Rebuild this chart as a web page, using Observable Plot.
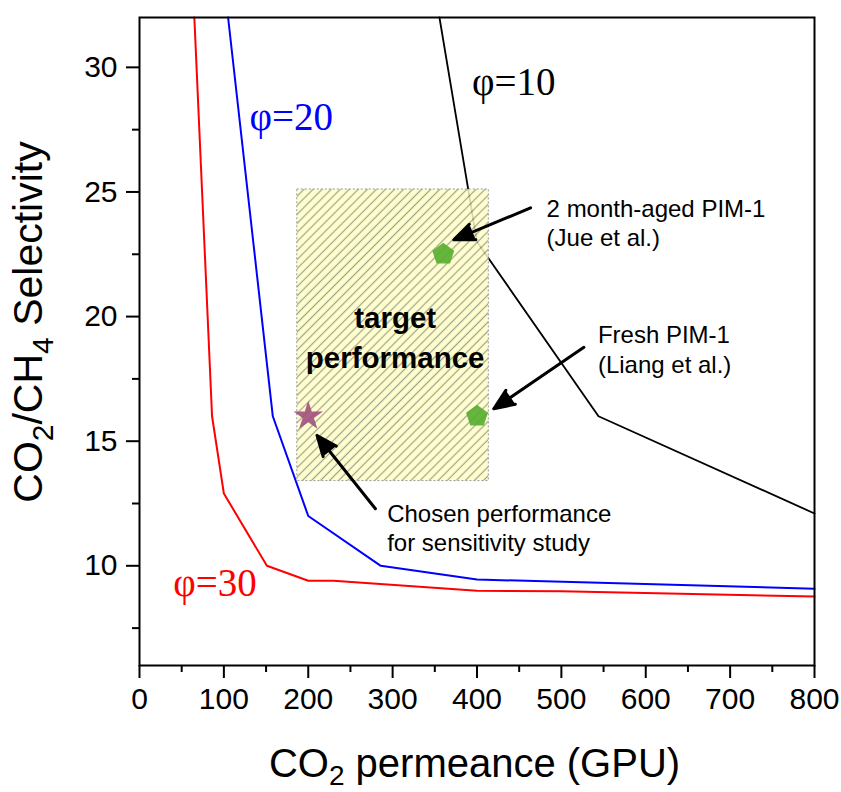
<!DOCTYPE html>
<html><head><meta charset="utf-8">
<script src="https://cdn.jsdelivr.net/npm/d3@7"></script>
<script src="https://cdn.jsdelivr.net/npm/@observablehq/plot@0.6"></script>
<style>body{margin:0;background:#fff;} svg{display:block}</style>
</head><body><div id="chart"></div>
<script>
// ---- data ----
const phi30X = [65, 86, 100, 151, 200, 230, 400, 500, 800];
const phi30Y = [32, 16, 12.9, 10, 9.4, 9.4, 9.0, 8.98, 8.77];
const phi20X = [105, 158, 200, 286, 400, 800];
const phi20Y = [32, 16, 12, 10, 9.45, 9.08];
const phi10X = [355.5, 400, 544, 800];
const phi10Y = [32, 23, 16, 12.1];

const targetX = [187, 414];
const targetY = [13.4, 25.1];
const targetLabel = "target\nperformance";
const targetLabelX = [303];
const targetLabelY = [20.7];

const pimX = [360, 400];
const pimY = [22.5, 16];
const chosenX = [200];
const chosenY = [16];

const xMajorTicks = [0, 100, 200, 300, 400, 500, 600, 700, 800];
const xMinorTicks = [50, 150, 250, 350, 450, 550, 650, 750];
const yMajorTicks = [10, 15, 20, 25, 30];
const yMinorTicks = [7.5, 12.5, 17.5, 22.5, 27.5];

const phiLabels = ["φ=30", "φ=20", "φ=10"];
const phiLabelX = [40, 130.5, 394];
const phiLabelY = [9.28, 27.98, 29.38];
const phiColors = ["#ff0000", "#0000ff", "#000000"];

const noteTexts = ["2 month-aged PIM-1\n(Jue et al.)", "Fresh PIM-1\n(Liang et al.)", "Chosen performance\nfor sensitivity study"];
const noteX = [482.5, 543.3, 293.5];
const noteY = [24.86, 19.78, 12.62];
const arrowX1 = [463.5, 526.7, 279.6];
const arrowY1 = [24.36, 18.77, 12.29];
const arrowX2 = [372.5, 419.9, 210.4];
const arrowY2 = [23.08, 16.30, 15.23];

// ---- tables ----
const toRows = (xs, ys) => xs.map((x, i) => ({x, y: ys[i]}));
const line30 = toRows(phi30X, phi30Y);
const line20 = toRows(phi20X, phi20Y);
const line10 = toRows(phi10X, phi10Y);
const targetRect = [{x1: targetX[0], x2: targetX[1], y1: targetY[0], y2: targetY[1]}];
const pims = toRows(pimX, pimY);
const chosen = toRows(chosenX, chosenY);
const phiRows = phiLabels.map((t, i) => ({t, x: phiLabelX[i], y: phiLabelY[i], c: phiColors[i]}));
const notes = noteTexts.map((t, i) => ({t, x: noteX[i], y: noteY[i]}));
const arrows = arrowX1.map((x1, i) => ({x1, y1: arrowY1[i], x2: arrowX2[i], y2: arrowY2[i]}));
const targetText = [{t: targetLabel, x: targetLabelX[0], y: targetLabelY[0]}];

const pentagon = {
  draw(ctx, size) {
    const R = Math.sqrt(size / Math.PI);
    for (let i = 0; i < 5; i++) {
      const a = -Math.PI / 2 + i * 2 * Math.PI / 5;
      const px = R * Math.cos(a), py = R * Math.sin(a);
      if (i) ctx.lineTo(px, py); else ctx.moveTo(px, py);
    }
    ctx.closePath();
  }
};

const W = 841, H = 792;
const chart = Plot.plot({
  width: W, height: H,
  marginLeft: 139, marginRight: 27, marginTop: 17, marginBottom: 127,
  style: {fontFamily: "'Liberation Sans', Arial, sans-serif", fontSize: "29px", color: "black", background: "white", overflow: "visible"},
  x: {domain: [0, 800]},
  y: {domain: [6, 32]},
  marks: [
    Plot.line(line30, {x: "x", y: "y", stroke: "#ff0000", strokeWidth: 2}),
    Plot.line(line20, {x: "x", y: "y", stroke: "#0000ff", strokeWidth: 2}),
    Plot.line(line10, {x: "x", y: "y", stroke: "#000000", strokeWidth: 1.8}),
    Plot.rect(targetRect, {x1: "x1", x2: "x2", y1: "y1", y2: "y2", fill: "url(#hatch)", fillOpacity: 0.85, stroke: "#9a9a9a", strokeWidth: 1, strokeDasharray: "2,2"}),
    Plot.dot(pims, {x: "x", y: "y", symbol: pentagon, r: 11.5, fill: "#55ad2c", fillOpacity: 0.9, stroke: "none"}),
    Plot.dot(chosen, {x: "x", y: "y", symbol: "star", r: 9.3, fill: "#a24f7c", fillOpacity: 0.9, stroke: "none"}),
    Plot.arrow(arrows, {x1: "x1", y1: "y1", x2: "x2", y2: "y2", stroke: "black", fill: "black", strokeWidth: 3, headLength: 11, headAngle: 45, strokeLinejoin: "miter"}),
    Plot.text(phiRows, {x: "x", y: "y", text: "t", fill: "c", textAnchor: "start", fontFamily: "'Liberation Serif', 'Times New Roman', serif", fontSize: 39}),
    Plot.text(notes, {x: "x", y: "y", text: "t", textAnchor: "start", lineAnchor: "top", fontSize: 24, lineHeight: 1.24, fill: "black"}),
    Plot.text(targetText, {x: "x", y: "y", text: "t", textAnchor: "middle", lineAnchor: "top", fontSize: 29.5, fontWeight: "bold", lineHeight: 1.36, fill: "black"}),
    Plot.frame({stroke: "black", strokeWidth: 2}),
    Plot.axisX({ticks: xMajorTicks, tickSize: 13, tickPadding: 9, strokeWidth: 2, fontSize: 30, label: null, tickFormat: d => String(d)}),
    Plot.axisX({ticks: xMinorTicks, tickSize: 7, strokeWidth: 2, label: null, tickFormat: () => ""}),
    Plot.axisY({ticks: yMajorTicks, tickSize: 13, tickPadding: 9, strokeWidth: 2, fontSize: 30, label: null, tickFormat: d => String(d)}),
    Plot.axisY({ticks: yMinorTicks, tickSize: 7, strokeWidth: 2, label: null, tickFormat: () => ""})
  ]
});
document.getElementById("chart").appendChild(chart);

const svg = d3.select(chart);
// hatch pattern for the target region
const defs = svg.insert("defs", ":first-child");
const pat = defs.append("pattern").attr("id", "hatch").attr("patternUnits", "userSpaceOnUse")
  .attr("width", 6.4).attr("height", 6.4).attr("patternTransform", "rotate(45)");
pat.append("rect").attr("width", 6.4).attr("height", 6.4).attr("fill", "#ffffc6");
pat.append("line").attr("x1", 3.2).attr("y1", 0).attr("x2", 3.2).attr("y2", 6.4)
  .attr("stroke", "#8f8f7c").attr("stroke-width", 1.2);

// axis titles with subscripts
const xr = chart.scale("x").range, yr = chart.scale("y").range;
const labelFont = "'Liberation Sans', Arial, sans-serif";
const xt = svg.append("text").attr("x", (xr[0] + xr[1]) / 2 - 2).attr("y", H - 15)
  .attr("text-anchor", "middle").attr("font-family", labelFont).attr("font-size", 40).attr("fill", "black");
xt.append("tspan").text("CO");
xt.append("tspan").attr("font-size", 28).attr("dy", 8).text("2");
xt.append("tspan").attr("dy", -8).text(" permeance (GPU)");

const yc = (yr[0] + yr[1]) / 2 - 19;
const yt = svg.append("text").attr("transform", `translate(42,${yc}) rotate(-90)`)
  .attr("text-anchor", "middle").attr("font-family", labelFont).attr("font-size", 41).attr("fill", "black");
yt.append("tspan").text("CO");
yt.append("tspan").attr("font-size", 30).attr("dy", 11).text("2");
yt.append("tspan").attr("dy", -11).text("/CH");
yt.append("tspan").attr("font-size", 30).attr("dy", 11).text("4");
yt.append("tspan").attr("dy", -11).text(" Selectivity");
</script>
</body></html>
